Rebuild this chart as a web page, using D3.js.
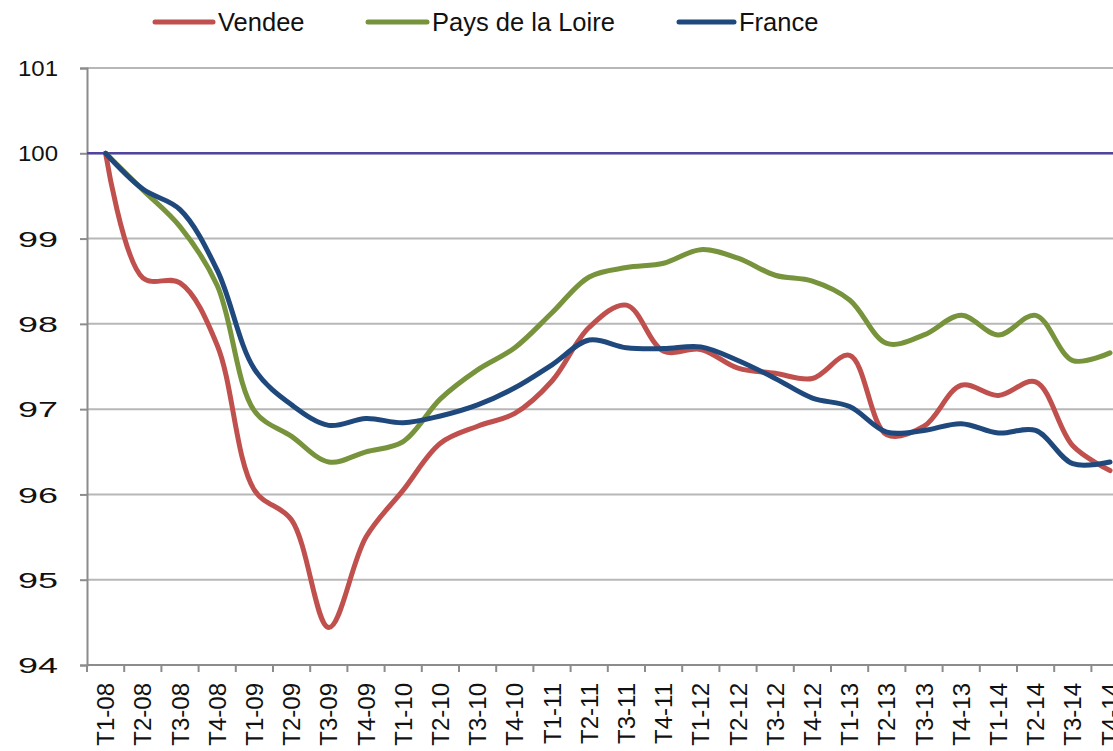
<!DOCTYPE html>
<html>
<head>
<meta charset="utf-8">
<script src="https://cdn.jsdelivr.net/npm/d3@7"></script>
<style>
  html, body { margin: 0; padding: 0; background: #fff; overflow: hidden; }
  svg { display: block; font-family: "Liberation Sans", Arial, sans-serif; }
</style>
</head>
<body>
<svg id="chart" width="1113" height="751"></svg>
<script>
// Quarterly index, base 100 = T1-08
const quarters = [
  "T1-08","T2-08","T3-08","T4-08",
  "T1-09","T2-09","T3-09","T4-09",
  "T1-10","T2-10","T3-10","T4-10",
  "T1-11","T2-11","T3-11","T4-11",
  "T1-12","T2-12","T3-12","T4-12",
  "T1-13","T2-13","T3-13","T4-13",
  "T1-14","T2-14","T3-14","T4-14"
];

const vendee = [
  100.00, 98.54, 98.48, 97.75,
  96.05, 95.70, 94.44, 95.50,
  96.05, 96.60, 96.80, 96.95,
  97.33, 97.96, 98.22, 97.68,
  97.70, 97.48, 97.42, 97.36,
  97.63, 96.70, 96.80, 97.28,
  97.16, 97.32, 96.57, 96.28
];

const paysDeLaLoire = [
  100.00, 99.57, 99.14, 98.45,
  96.98, 96.68, 96.38, 96.50,
  96.62, 97.12, 97.46, 97.72,
  98.13, 98.55, 98.66, 98.71,
  98.87, 98.77, 98.57, 98.50,
  98.28, 97.77, 97.87, 98.10,
  97.87, 98.10, 97.57, 97.66
];

const france = [
  100.00, 99.58, 99.34, 98.63,
  97.47, 97.05, 96.81, 96.89,
  96.84, 96.92, 97.05, 97.25,
  97.52, 97.81, 97.72, 97.71,
  97.73, 97.57, 97.36, 97.13,
  97.03, 96.73, 96.75, 96.83,
  96.72, 96.75, 96.36, 96.38
];

const baseLevel = 100;
const yTicks = [94, 95, 96, 97, 98, 99, 100, 101];

const series = [
  { name: "Vendee", values: vendee, color: "#C0504D" },
  { name: "Pays de la Loire", values: paysDeLaLoire, color: "#77933C" },
  { name: "France", values: france, color: "#1F497D" }
];

const svg = d3.select("#chart");

const plot = { left: 87, top: 68, bottom: 665, step: 37.2 };
const plotRight = plot.left + plot.step * quarters.length;

const x = d3.scaleBand()
  .domain(quarters)
  .range([plot.left, plotRight])
  .padding(0);

const y = d3.scaleLinear()
  .domain([94, 101])
  .range([plot.bottom, plot.top]);

const cx = q => x(q) + x.bandwidth() / 2;

// Horizontal gridlines
svg.append("g")
  .selectAll("line")
  .data(yTicks)
  .join("line")
  .attr("x1", plot.left)
  .attr("x2", 1113)
  .attr("y1", d => y(d))
  .attr("y2", d => y(d))
  .attr("stroke", "#B7B7B7")
  .attr("stroke-width", 2);

// Y axis
const yAxis = svg.append("g")
  .attr("transform", `translate(${plot.left},0)`)
  .call(d3.axisLeft(y).tickValues(yTicks).tickSize(7).tickPadding(22).tickFormat(d3.format("d")));
yAxis.select(".domain").attr("stroke", "#8C8C8C").attr("stroke-width", 2);
yAxis.selectAll(".tick line").attr("stroke", "#8C8C8C").attr("stroke-width", 2);
yAxis.selectAll(".tick text")
  .attr("fill", "#111")
  .style("font-size", "22px")
  .attr("textLength", 40)
  .attr("lengthAdjust", "spacingAndGlyphs")
  .attr("dy", "0.35em");

// X axis: tick marks at the band boundaries
const xAxisG = svg.append("g");
xAxisG.append("line")
  .attr("x1", plot.left).attr("x2", 1113)
  .attr("y1", plot.bottom).attr("y2", plot.bottom)
  .attr("stroke", "#8C8C8C").attr("stroke-width", 2);
xAxisG.selectAll("line.tick")
  .data(quarters.concat(["end"]))
  .join("line")
  .attr("class", "tick")
  .attr("x1", (d, i) => i < quarters.length ? x(d) : plotRight)
  .attr("x2", (d, i) => i < quarters.length ? x(d) : plotRight)
  .attr("y1", plot.bottom)
  .attr("y2", plot.bottom + 7)
  .attr("stroke", "#8C8C8C").attr("stroke-width", 2);
xAxisG.selectAll("text")
  .data(quarters)
  .join("text")
  .attr("transform", d => `translate(${cx(d) + 8.5},${plot.bottom + 18}) rotate(-90)`)
  .attr("text-anchor", "end")
  .attr("fill", "#111")
  .style("font-size", "24px")
  .text(d => d);

// Base 100 reference line
svg.append("line")
  .attr("x1", plot.left).attr("x2", 1113)
  .attr("y1", y(baseLevel)).attr("y2", y(baseLevel))
  .attr("stroke", "#4F45A0").attr("stroke-width", 2.5);

// Smoothed series lines
const line = d3.line()
  .x((d, i) => cx(quarters[i]))
  .y(d => y(d))
  .curve(d3.curveCatmullRom.alpha(0.5));

svg.append("g")
  .selectAll("path")
  .data(series)
  .join("path")
  .attr("d", s => line(s.values))
  .attr("fill", "none")
  .attr("stroke", s => s.color)
  .attr("stroke-width", 5)
  .attr("stroke-linejoin", "round")
  .attr("stroke-linecap", "round");

// Legend
const legendItems = [
  { name: "Vendee", color: "#C0504D", x0: 155, x1: 213, tx: 218 },
  { name: "Pays de la Loire", color: "#77933C", x0: 368, x1: 427, tx: 432 },
  { name: "France", color: "#1F497D", x0: 679, x1: 734, tx: 739 }
];
const legend = svg.append("g");
legend.selectAll("line")
  .data(legendItems)
  .join("line")
  .attr("x1", d => d.x0).attr("x2", d => d.x1)
  .attr("y1", 22).attr("y2", 22)
  .attr("stroke", d => d.color)
  .attr("stroke-width", 5)
  .attr("stroke-linecap", "round");
legend.selectAll("text")
  .data(legendItems)
  .join("text")
  .attr("x", d => d.tx)
  .attr("y", 22)
  .attr("dy", "0.36em")
  .attr("fill", "#111")
  .style("font-size", "25.5px")
  .text(d => d.name);
</script>
</body>
</html>
